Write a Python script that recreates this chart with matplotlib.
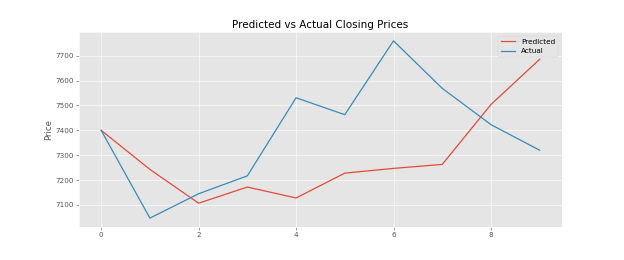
import matplotlib
matplotlib.use("Agg")
import matplotlib.pyplot as plt

days = list(range(10))
predicted = [7400, 7243, 7107, 7172, 7128, 7228, 7247, 7263, 7504, 7686]
actual = [7400, 7047, 7145, 7217, 7531, 7463, 7760, 7569, 7423, 7320]

plt.style.use("ggplot")

fig, ax = plt.subplots(figsize=(12, 5), dpi=52)
fig.subplots_adjust(left=0.127, right=0.9, top=0.877, bottom=0.127)
ax.plot(days, predicted, label="Predicted", lw=1.7)
ax.plot(days, actual, label="Actual", lw=1.7)
ax.set_title("Predicted vs Actual Closing Prices")
ax.set_ylabel("Price")
ax.legend()

fig.savefig("out.png", dpi=52)
